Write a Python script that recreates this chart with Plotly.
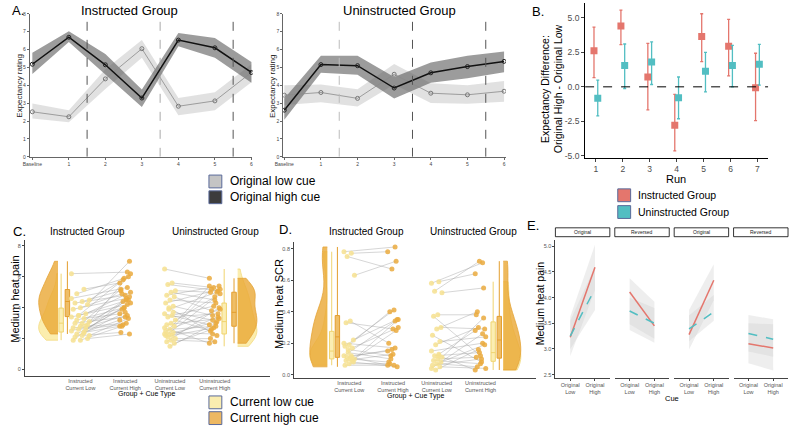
import plotly.graph_objects as go

W, H = 790, 430
FONT = "Liberation Sans, Arial, sans-serif"

# ---------------- Panel A data ----------------
a_runs = [0, 1, 2, 3, 4, 5, 6]
a_run_labels = ["Baseline", "1", "2", "3", "4", "5", "6"]
a_instr_high = [5.18, 6.69, 5.15, 3.29, 6.53, 6.10, 4.72]
a_instr_high_upper = [5.83, 7.02, 5.75, 3.77, 6.93, 6.65, 5.31]
a_instr_high_lower = [4.63, 6.42, 4.60, 2.79, 6.19, 5.55, 4.14]
a_instr_low = [2.52, 2.24, 4.36, 6.05, 2.83, 3.13, 4.72]
a_instr_low_upper = [2.98, 2.61, 4.90, 6.53, 3.29, 3.62, 5.18]
a_instr_low_lower = [2.15, 1.93, 3.80, 5.55, 2.33, 2.61, 4.17]
a_unin_high = [2.61, 5.16, 5.10, 3.85, 4.70, 5.05, 5.34]
a_unin_high_upper = [3.27, 5.65, 5.65, 4.46, 5.28, 5.65, 5.89]
a_unin_high_lower = [2.07, 4.70, 4.59, 3.27, 4.15, 4.40, 4.73]
a_unin_low = [3.45, 3.60, 3.27, 4.62, 3.56, 3.47, 3.67]
a_unin_low_upper = [4.00, 4.04, 3.78, 5.19, 4.11, 4.00, 4.24]
a_unin_low_lower = [2.90, 3.05, 2.81, 4.04, 3.01, 2.97, 3.08]
a_phase_bounds = [1.5, 3.5, 5.5]
a_yticks = [0, 1, 2, 3, 4, 5, 6, 7, 8]

# ---------------- Panel B data ----------------
b_runs = [1, 2, 3, 4, 5, 6, 7]
b_instr = [2.62, 4.40, 0.71, -2.79, 3.64, 2.93, -0.07]
b_instr_upper = [4.33, 5.55, 3.14, -0.55, 5.29, 4.88, 2.43]
b_instr_lower = [0.67, 3.05, -1.67, -4.64, 1.83, 0.79, -2.45]
b_unin = [-0.83, 1.55, 1.79, -0.79, 1.12, 1.55, 1.64]
b_unin_upper = [0.48, 3.10, 3.26, 0.71, 2.50, 3.00, 3.07]
b_unin_lower = [-2.10, -0.12, 0.17, -2.31, -0.36, 0.00, 0.12]
b_yticks = [-5.0, -2.5, 0.0, 2.5, 5.0]
b_ytick_labels = ["-5.0", "-2.5", "0.0", "2.5", "5.0"]

# ---------------- Panel C data (pain) ----------------
c_categories = ["Instructed<br>Current Low", "Instructed<br>Current High",
                "Uninstructed<br>Current Low", "Uninstructed<br>Current High"]
c_instr_low = [6.2, 5.2, 4.9, 4.5, 4.4, 4.3, 4.2, 4.0, 3.9, 3.6, 3.5, 3.4, 3.3, 3.2, 3.1, 3.0, 3.0, 2.9,
               2.8, 2.7, 2.6, 2.6, 2.5, 2.4, 2.3, 2.2, 2.2, 2.1, 2.0, 1.9, 1.9, 2.8, 3.5, 4.6, 2.4]
c_instr_high = [6.3, 5.6, 5.9, 6.0, 5.1, 4.8, 7.0, 4.9, 4.6, 5.0, 4.4, 4.2, 3.6, 4.0, 4.5, 5.2, 3.4, 4.7,
                3.9, 3.0, 4.3, 2.9, 3.5, 2.8, 4.0, 3.3, 2.4, 3.7, 2.3, 2.8, 4.5, 6.2, 5.8, 5.3, 3.2]
c_unin_low = [6.5, 5.6, 5.5, 5.1, 5.0, 4.8, 4.7, 4.5, 4.3, 4.1, 3.9, 3.6, 3.5, 3.4, 3.2, 3.0, 2.9, 2.8,
              2.6, 2.5, 2.4, 2.3, 2.3, 2.2, 2.1, 2.0, 1.9, 1.8, 1.7, 1.5, 2.2, 3.7, 4.0, 2.7]
c_unin_high = [5.9, 5.3, 5.1, 5.0, 4.5, 5.4, 3.8, 4.3, 5.2, 3.5, 5.0, 2.9, 4.1, 3.6, 2.5, 4.7, 3.3, 5.2,
               2.8, 3.9, 2.3, 3.1, 5.4, 2.7, 3.4, 2.0, 1.8, 4.0, 2.6, 3.0, 4.9, 3.2, 2.2, 1.7]
c_yticks = [0, 2, 4, 6, 8]

# ---------------- Panel D data (SCR) ----------------
d_instr_low = [0.78, 0.77, 0.75, 0.63, 0.34, 0.33, 0.22, 0.19, 0.18, 0.17, 0.16, 0.12, 0.12, 0.11,
               0.10, 0.10, 0.09, 0.08, 0.07, 0.06, 0.09, 0.14, 0.20, 0.11]
d_instr_high = [0.81, 0.78, 0.67, 0.72, 0.20, 0.29, 0.35, 0.40, 0.41, 0.30, 0.12, 0.34, 0.15, 0.16,
                0.28, 0.08, 0.13, 0.05, 0.07, 0.06, 0.35, 0.10, 0.17, 0.06]
d_unin_low = [0.58, 0.59, 0.53, 0.52, 0.38, 0.37, 0.30, 0.29, 0.25, 0.21, 0.19, 0.15, 0.13, 0.12,
              0.11, 0.10, 0.09, 0.08, 0.07, 0.06, 0.05, 0.03, 0.04, 0.12]
d_unin_high = [0.71, 0.64, 0.72, 0.55, 0.38, 0.12, 0.29, 0.40, 0.08, 0.24, 0.30, 0.20, 0.28, 0.14,
               0.36, 0.11, 0.07, 0.19, 0.05, 0.10, 0.04, 0.16, 0.26, 0.03]
d_yticks = [0.0, 0.2, 0.4, 0.6, 0.8]
d_ytick_labels = ["0.0", "0.2", "0.4", "0.6", "0.8"]

# ---------------- Panel E data ----------------
e_cues = ["Original<br>Low", "Original<br>High"]
e_facets = ["Original", "Reversed", "Original", "Reversed"]
e_instr = [[3.23, 4.59], [4.11, 3.45], [3.28, 4.34], [3.10, 3.02]]
e_instr_upper = [[3.63, 5.03], [4.38, 3.92], [3.76, 4.65], [3.66, 3.58]]
e_instr_lower = [[2.86, 4.15], [3.37, 3.12], [2.99, 3.95], [2.72, 2.58]]
e_unin = [[3.25, 4.17], [3.74, 3.50], [3.39, 3.72], [3.30, 3.19]]
e_unin_upper = [[3.55, 4.60], [4.00, 3.80], [3.65, 4.05], [3.50, 3.48]]
e_unin_lower = [[3.00, 3.76], [3.48, 3.20], [3.15, 3.55], [2.95, 2.85]]
e_yticks = [2.5, 3.0, 3.5, 4.0, 4.5, 5.0]
e_ytick_labels = ["2.5", "3.0", "3.5", "4.0", "4.5", "5.0"]

RED = "#E4766D"
CYAN = "#52BEC2"
LOWY = "#F6E08F"
HIGHO = "#EAAA3E"

fig = go.Figure()
layout_axes = {}
count = [0]


def make_axes(x0, x1, ytop, ybot, xr, yr, xkw=None, ykw=None):
    count[0] += 1
    n = count[0]
    s = "" if n == 1 else str(n)
    base = dict(showgrid=False, zeroline=False, fixedrange=True)
    xa = dict(base, domain=[x0 / W, x1 / W], range=xr, anchor="y" + s)
    ya = dict(base, domain=[1 - ybot / H, 1 - ytop / H], range=yr, anchor="x" + s)
    xa.update(xkw or {})
    ya.update(ykw or {})
    layout_axes["xaxis" + s] = xa
    layout_axes["yaxis" + s] = ya
    return "x" + s, "y" + s


annotations = []
shapes = []


def ann(x, y, text, size, xanchor="center", yanchor="middle", angle=0, color="black"):
    annotations.append(dict(x=x / W, y=1 - y / H, xref="paper", yref="paper", text=text,
                            showarrow=False, xanchor=xanchor, yanchor=yanchor, textangle=angle,
                            font=dict(size=size, color=color, family=FONT)))


def legend_box(x, y, color):
    shapes.append(dict(type="rect", xref="paper", yref="paper", x0=x / W, x1=(x + 13) / W,
                       y0=1 - (y + 6.5) / H, y1=1 - (y - 6.5) / H, fillcolor=color,
                       line=dict(color="#5a6a9a", width=1)))


def band(xa, ya, xs, lo, hi, color):
    fig.add_trace(go.Scatter(x=list(xs) + list(xs)[::-1], y=list(hi) + list(lo)[::-1],
                             fill="toself", fillcolor=color, line=dict(width=0), mode="lines",
                             xaxis=xa, yaxis=ya, hoverinfo="skip", showlegend=False))


# ---------------- Panel A ----------------
a_axis_style = dict(showline=True, linecolor="#666", linewidth=0.8, ticks="outside", ticklen=2,
                    tickcolor="#666", tickfont=dict(size=5, color="#444", family=FONT))
a_panels = [
    (22, 247, [-0.07, 6.03], a_instr_high, a_instr_high_lower, a_instr_high_upper,
     a_instr_low, a_instr_low_lower, a_instr_low_upper, ["#555", "#aaa", "#555"], 123, "Instructed Group", 12),
    (278, 503, [-0.03, 6.05], a_unin_high, a_unin_high_lower, a_unin_high_upper,
     a_unin_low, a_unin_low_lower, a_unin_low_upper, ["#bbb", "#555", "#555"], 395, "Uninstructed Group", 268),
]
for (x0, x1, xr, hi, hil, hiu, lo, lol, lou, vcols, tx, title, ytx) in a_panels:
    xa, ya = make_axes(x0, x1, 11, 156, xr, [0, 8],
                       dict(a_axis_style, tickvals=a_runs, ticktext=a_run_labels),
                       dict(a_axis_style, tickvals=a_yticks))
    band(xa, ya, a_runs, lol, lou, "rgba(200,200,200,0.55)")
    band(xa, ya, a_runs, hil, hiu, "rgba(90,90,90,0.6)")
    fig.add_trace(go.Scatter(x=a_runs, y=lo, mode="lines+markers", xaxis=xa, yaxis=ya,
                             line=dict(color="#8a8a8a", width=0.8),
                             marker=dict(symbol="circle-open", size=4, color="#777"),
                             hoverinfo="skip", showlegend=False))
    fig.add_trace(go.Scatter(x=a_runs, y=hi, mode="lines+markers", xaxis=xa, yaxis=ya,
                             line=dict(color="#111", width=1.5),
                             marker=dict(symbol="circle-open", size=4, color="#222"),
                             hoverinfo="skip", showlegend=False))
    for b, c in zip(a_phase_bounds, vcols):
        shapes.append(dict(type="line", xref=xa, yref=ya, x0=b, x1=b, y0=0, y1=8,
                           line=dict(color=c, width=1, dash="dash")))
    ann(tx, 8, title, 13)
    ann(ytx, 84, "Expectancy rating", 8, angle=-90, color="#222")

ann(2, 8, "A.", 13, xanchor="left")
legend_box(203, 181, "#c4c4c4")
legend_box(203, 197, "#3c3c3c")
ann(222, 181, "Original low cue", 12, xanchor="left")
ann(222, 197, "Original high cue", 12, xanchor="left")

# ---------------- Panel B ----------------
b_axis = dict(showline=True, linecolor="black", linewidth=1, ticks="outside", ticklen=3,
              tickcolor="#444", tickfont=dict(size=8.5, color="#4d4d4d", family=FONT))
xb, yb = make_axes(583, 768, 0, 157, [0.6, 7.4], [-5.14, 6.07],
                   dict(b_axis, tickvals=b_runs, ticktext=[str(r) for r in b_runs]),
                   dict(b_axis, tickvals=b_yticks, ticktext=b_ytick_labels))
shapes.append(dict(type="line", xref=xb, yref=yb, x0=0.6, x1=7.4, y0=0, y1=0,
                   line=dict(color="black", width=1, dash="dash")))
for vals, up, lo, col, off in [(b_instr, b_instr_upper, b_instr_lower, RED, -0.07),
                               (b_unin, b_unin_upper, b_unin_lower, CYAN, 0.07)]:
    fig.add_trace(go.Scatter(
        x=[r + off for r in b_runs], y=vals, mode="markers", xaxis=xb, yaxis=yb,
        marker=dict(symbol="square", size=7, color=col),
        error_y=dict(type="data", array=[u - v for u, v in zip(up, vals)],
                     arrayminus=[v - l for v, l in zip(vals, lo)], color=col, thickness=1.3, width=1.5),
        hoverinfo="skip", showlegend=False))
ann(527, 9, "B.", 13, xanchor="left")
ann(549, 87, "Expectancy Difference:<br>Original High - Original Low", 10.5, angle=-90)
ann(675, 178, "Run", 11)
legend_box(616, 195, RED)
legend_box(616, 212, CYAN)
ann(634, 195, "Instructed Group", 10.5, xanchor="left")
ann(634, 212, "Uninstructed Group", 10.5, xanchor="left")


# ---------------- Panels C, D (raincloud) ----------------
def jitter(n, amp):
    return [amp * (((i * 7) % 11) / 5.0 - 1.0) for i in range(n)]


def raincloud(xa, ya, il, ih, ul, uh, vio_i, box_i, vio_u, box_u, vw, amp_first):
    for low, high, cl, ch, amp in [(il, ih, 1, 2, amp_first), (ul, uh, 3, 4, 0.12)]:
        jl = jitter(len(low), amp)
        jh = jitter(len(high), 0.12)[::-1]
        lx, ly = [], []
        for k in range(len(low)):
            lx += [cl + jl[k], ch + jh[k], None]
            ly += [low[k], high[k], None]
        fig.add_trace(go.Scatter(x=lx, y=ly, mode="lines", xaxis=xa, yaxis=ya,
                                 line=dict(color="rgba(160,160,160,0.55)", width=0.8),
                                 hoverinfo="skip", showlegend=False))
        fig.add_trace(go.Scatter(x=[cl + j for j in jl], y=low, mode="markers", xaxis=xa, yaxis=ya,
                                 marker=dict(size=5, color=LOWY, opacity=0.85),
                                 hoverinfo="skip", showlegend=False))
        fig.add_trace(go.Scatter(x=[ch + j for j in jh], y=high, mode="markers", xaxis=xa, yaxis=ya,
                                 marker=dict(size=5, color=HIGHO, opacity=0.85),
                                 hoverinfo="skip", showlegend=False))
    for data_l, data_h, vpos, side, bpos in [(il, ih, vio_i, "negative", box_i),
                                             (ul, uh, vio_u, "positive", box_u)]:
        for data, fc, lc in [(data_l, "rgba(250,234,160,0.85)", "#F3DA80"),
                             (data_h, "rgba(234,168,52,0.8)", "#E5A438")]:
            fig.add_trace(go.Violin(y=data, x0=vpos, side=side, width=vw, spanmode="hard",
                                    points=False, fillcolor=fc, line=dict(color=lc, width=0.8),
                                    xaxis=xa, yaxis=ya, hoverinfo="skip", showlegend=False))
        for data, bp, fc, lc in [(data_l, bpos[0], "rgba(250,234,160,0.8)", "#F0D470"),
                                 (data_h, bpos[1], "rgba(234,168,52,0.75)", "#E39E2E")]:
            fig.add_trace(go.Box(y=data, x0=bp, width=0.1, fillcolor=fc, line=dict(color=lc, width=1),
                                 boxpoints=False, whiskerwidth=0, xaxis=xa, yaxis=ya,
                                 hoverinfo="skip", showlegend=False))


cd_axis = dict(showline=True, linecolor="#444", linewidth=1, ticks="outside", ticklen=2,
               tickcolor="#444", tickfont=dict(size=5.5, color="#555", family=FONT))
xc, yc = make_axes(17, 265, 240, 378, [-0.24, 5.24], [-0.4, 8.4],
                   dict(cd_axis, tickvals=[1, 2, 3, 4], ticktext=c_categories, ticks=""),
                   dict(cd_axis, tickvals=c_yticks))
raincloud(xc, yc, c_instr_low, c_instr_high, c_unin_low, c_unin_high,
          0.50, (0.57, 0.71), 4.51, (4.21, 4.43), 0.86, 0.2)
ann(3, 232, "C.", 13, xanchor="left")
ann(80, 232, "Instructed Group", 10)
ann(210, 232, "Uninstructed Group", 10)
ann(7, 300, "Medium heat pain", 11, angle=-90)
ann(140, 397, "Group + Cue Type", 7)
legend_box(203, 405, "#FAEDB0")
legend_box(203, 421, "#EDB862")
ann(222, 405, "Current low cue", 12, xanchor="left")
ann(222, 421, "Current high cue", 12, xanchor="left")

xd, yd = make_axes(289, 533, 242, 380, [-0.26, 5.26], [-0.019, 0.844],
                   dict(cd_axis, tickvals=[1, 2, 3, 4], ticktext=c_categories, ticks=""),
                   dict(cd_axis, tickvals=d_yticks, ticktext=d_ytick_labels))
raincloud(xd, yd, d_instr_low, d_instr_high, d_unin_low, d_unin_high,
          0.50, (0.60, 0.73), 4.52, (4.29, 4.43), 0.8, 0.12)
ann(272, 230, "D.", 13, xanchor="left")
ann(362, 232, "Instructed Group", 10)
ann(470, 232, "Uninstructed Group", 10)
ann(274, 305, "Medium heat SCR", 11, angle=-90)
ann(412, 399, "Group + Cue Type", 7)

# ---------------- Panel E ----------------
e_axis = dict(showline=True, linecolor="#444", linewidth=1, ticks="outside", ticklen=2,
              tickcolor="#444", tickfont=dict(size=5.5, color="#555", family=FONT))
e_x = [1, 2]
e_bounds = [(553, 608), (613, 668), (673, 728), (733, 788)]
for f, (x0, x1) in enumerate(e_bounds):
    ykw = dict(e_axis, tickvals=e_yticks, ticktext=e_ytick_labels) if f == 0 else dict(visible=False)
    xe, ye = make_axes(x0, x1, 240, 380, [0.4, 2.6], [2.44, 5.13],
                       dict(e_axis, tickvals=e_x, ticktext=e_cues), ykw)
    band(xe, ye, e_x, e_instr_lower[f], e_instr_upper[f], "rgba(205,205,205,0.35)")
    band(xe, ye, e_x, e_unin_lower[f], e_unin_upper[f], "rgba(205,205,205,0.35)")
    fig.add_trace(go.Scatter(x=e_x, y=e_instr[f], mode="lines", xaxis=xe, yaxis=ye,
                             line=dict(color=RED, width=1.5), hoverinfo="skip", showlegend=False))
    fig.add_trace(go.Scatter(x=e_x, y=e_unin[f], mode="lines", xaxis=xe, yaxis=ye,
                             line=dict(color=CYAN, width=1.5, dash="dash"), hoverinfo="skip",
                             showlegend=False))
    shapes.append(dict(type="rect", xref="paper", yref="paper", x0=x0 / W, x1=x1 / W,
                       y0=1 - 237 / H, y1=1 - 228 / H, fillcolor="white",
                       line=dict(color="black", width=0.8)))
    ann((x0 + x1) / 2, 232.5, e_facets[f], 5, color="#222")
ann(522, 226, "E.", 13, xanchor="left")
ann(537, 305, "Medium heat pain", 10.5, angle=-90)
ann(671, 401, "Cue", 7.5)

fig.update_layout(width=W, height=H, margin=dict(l=0, r=0, t=0, b=0), autosize=False,
                  plot_bgcolor="white", paper_bgcolor="white", showlegend=False,
                  violinmode="overlay", boxmode="overlay", font=dict(family=FONT),
                  annotations=annotations, shapes=shapes, **layout_axes)
fig.write_html("out.html", config={"displayModeBar": False},
               post_script="document.body.style.margin='0px';")
